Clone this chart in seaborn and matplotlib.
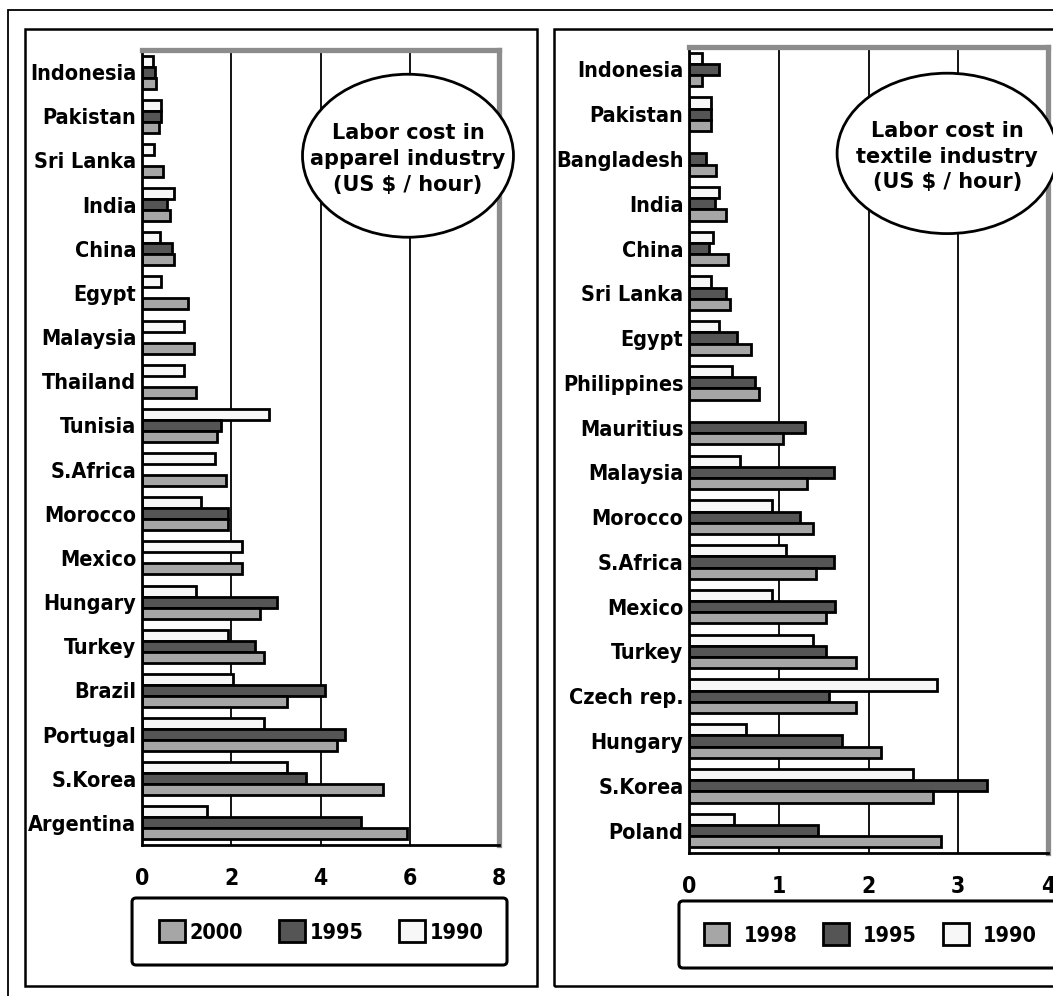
import numpy as np
import pandas as pd
import seaborn as sns
import matplotlib.pyplot as plt
from matplotlib import font_manager
from matplotlib.patches import Ellipse, Rectangle, FancyBboxPatch, Patch

nan = np.nan

# apparel industry (US $ / hour)
apparel_countries = ['Indonesia', 'Pakistan', 'Sri Lanka', 'India', 'China', 'Egypt',
                     'Malaysia', 'Thailand', 'Tunisia', 'S.Africa', 'Morocco', 'Mexico',
                     'Hungary', 'Turkey', 'Brazil', 'Portugal', 'S.Korea', 'Argentina']
apparel_1990 = [0.25, 0.43, 0.26, 0.71, 0.41, 0.43, 0.93, 0.93, 2.84, 1.63, 1.32, 2.23,
                1.22, 1.92, 2.03, 2.74, 3.25, 1.46]
apparel_1995 = [0.30, 0.43, nan, 0.55, 0.67, nan, nan, nan, 1.77, nan, 1.92, nan,
                3.03, 2.53, 4.09, 4.54, 3.68, 4.91]
apparel_2000 = [0.32, 0.37, 0.47, 0.62, 0.71, 1.03, 1.17, 1.22, 1.68, 1.88, 1.92, 2.23,
                2.64, 2.74, 3.25, 4.36, 5.39, 5.94]

# textile industry (US $ / hour)
textile_countries = ['Indonesia', 'Pakistan', 'Bangladesh', 'India', 'China', 'Sri Lanka',
                     'Egypt', 'Philippines', 'Mauritius', 'Malaysia', 'Morocco', 'S.Africa',
                     'Mexico', 'Turkey', 'Czech rep.', 'Hungary', 'S.Korea', 'Poland']
textile_1990 = [0.15, 0.25, nan, 0.33, 0.27, 0.25, 0.33, 0.48, nan, 0.57, 0.93, 1.08,
                0.93, 1.38, 2.76, 0.63, 2.49, 0.50]
textile_1995 = [0.33, 0.25, 0.19, 0.29, 0.22, 0.41, 0.53, 0.74, 1.29, 1.61, 1.24, 1.61,
                1.63, 1.53, 1.56, 1.71, 3.32, 1.44]
textile_1998 = [0.15, 0.25, 0.30, 0.41, 0.43, 0.46, 0.69, 0.78, 1.05, 1.31, 1.38, 1.41,
                1.53, 1.86, 1.86, 2.14, 2.72, 2.81]

WHITE, DARK, LIGHT = '#f7f7f7', '#555555', '#a6a6a6'

# a narrow bold face if one is installed, else plain Liberation Sans
narrow = [f for f in font_manager.fontManager.ttflist
          if 'bold' in f.fname.lower()
          and ('narrow' in f.name.lower() or f.stretch in ('condensed', 'semi-condensed'))]
if narrow:
    FONT = [narrow[0].name, 'Liberation Sans', 'DejaVu Sans']
    STRETCH = narrow[0].stretch
    LBL, TCK, LEG = 15.5, 16.5, 15.5
else:
    FONT = ['Liberation Sans', 'DejaVu Sans']
    STRETCH = 'normal'
    LBL, TCK, LEG = 17, 18, 17

sns.set_style('white')
plt.rcParams['font.family'] = FONT
plt.rcParams['font.stretch'] = STRETCH
plt.rcParams['font.weight'] = 'bold'
plt.rcParams['text.color'] = 'black'
plt.rcParams['xtick.color'] = 'black'
plt.rcParams['ytick.color'] = 'black'


def long_df(countries, series):
    rows = []
    for year, vals in series.items():
        for c, v in zip(countries, vals):
            if not np.isnan(v):
                rows.append({'country': c, 'year': year, 'cost': v})
    return pd.DataFrame(rows)


def panel(ax, countries, series, colors, xmax, title, ell, leg_order, leg_xy, leg_pad):
    df = long_df(countries, series)
    years = list(series.keys())
    sns.barplot(data=df, x='cost', y='country', hue='year', order=countries,
                hue_order=years, palette=dict(zip(years, colors)), orient='h',
                width=0.75, edgecolor='black', linewidth=2, saturation=1,
                errorbar=None, legend=False, ax=ax)
    ax.set_xlim(0, xmax)
    ax.set_xlabel('')
    ax.set_ylabel('')
    ax.set_axisbelow(True)
    ax.xaxis.grid(True, color='black', linewidth=1.3)
    ax.yaxis.grid(False)
    for side in ['top', 'right']:
        ax.spines[side].set_color('#8c8c8c')
        ax.spines[side].set_linewidth(3.8)
    for side in ['left', 'bottom']:
        ax.spines[side].set_color('black')
        ax.spines[side].set_linewidth(2)
    ax.tick_params(axis='y', length=0, pad=4, labelsize=LBL)
    ax.set_yticks(np.arange(len(countries) + 1) - 0.5, minor=True)
    ax.tick_params(axis='y', which='minor', length=3, width=1.5, direction='out')
    ax.tick_params(axis='x', length=4, width=1.5, direction='out', pad=12, labelsize=TCK)

    cx, cy, w, h = ell
    ax.add_patch(Ellipse((cx, cy), w, h, transform=ax.transAxes, facecolor='white',
                         edgecolor='black', linewidth=2, clip_on=False, zorder=5))
    ax.text(cx, cy - 0.004, title, transform=ax.transAxes, ha='center', va='center',
            family='DejaVu Sans', stretch='normal', weight='bold', fontsize=15,
            linespacing=1.35, zorder=6)

    lookup = dict(zip(years, colors))
    handles = [Patch(facecolor=lookup[y], edgecolor='black', linewidth=2) for y in leg_order]
    ax.legend(handles, leg_order, loc='center', bbox_to_anchor=leg_xy,
              bbox_transform=ax.figure.transFigure, ncol=3, frameon=False,
              prop=dict(family=FONT, stretch=STRETCH, weight='bold', size=LEG),
              handlelength=1.2, handleheight=1.2,
              handletextpad=leg_pad[0], columnspacing=leg_pad[1])


fig = plt.figure(figsize=(10.53, 9.96), dpi=100)

# outer frames
fig.add_artist(Rectangle((0.0076, -0.1), 1.2, 1.09, transform=fig.transFigure,
                         fill=False, edgecolor='black', linewidth=1.3))
fig.add_artist(Rectangle((0.0237, 0.010), 0.486, 0.961, transform=fig.transFigure,
                         fill=False, edgecolor='black', linewidth=1.8))
fig.add_artist(Rectangle((0.526, 0.010), 0.6, 0.961, transform=fig.transFigure,
                         fill=False, edgecolor='black', linewidth=1.8))
# legend boxes
fig.add_artist(FancyBboxPatch((0.1254, 0.0311), 0.3561, 0.0673,
                              boxstyle='round,pad=0,rounding_size=0.004',
                              transform=fig.transFigure, fill=False,
                              edgecolor='black', linewidth=2.2))
fig.add_artist(FancyBboxPatch((0.6448, 0.0281), 0.4, 0.0673,
                              boxstyle='round,pad=0,rounding_size=0.004',
                              transform=fig.transFigure, fill=False,
                              edgecolor='black', linewidth=2.2))

ax1 = fig.add_axes([0.1349, 0.1516, 0.3390, 0.7982])
ax2 = fig.add_axes([0.6543, 0.1436, 0.3410, 0.8092])

panel(ax1, apparel_countries,
      {'1990': apparel_1990, '1995': apparel_1995, '2000': apparel_2000},
      [WHITE, DARK, LIGHT], 8,
      'Labor cost in\napparel industry\n(US $ / hour)',
      (0.745, 0.867, 0.591, 0.205), ['2000', '1995', '1990'],
      (0.3053, 0.0648), (0.23, 1.65))

panel(ax2, textile_countries,
      {'1990': textile_1990, '1995': textile_1995, '1998': textile_1998},
      [WHITE, DARK, LIGHT], 4,
      'Labor cost in\ntextile industry\n(US $ / hour)',
      (0.719, 0.868, 0.613, 0.199), ['1998', '1995', '1990'],
      (0.8262, 0.0617), (0.65, 1.2))

plt.savefig('out.png', dpi=100)
